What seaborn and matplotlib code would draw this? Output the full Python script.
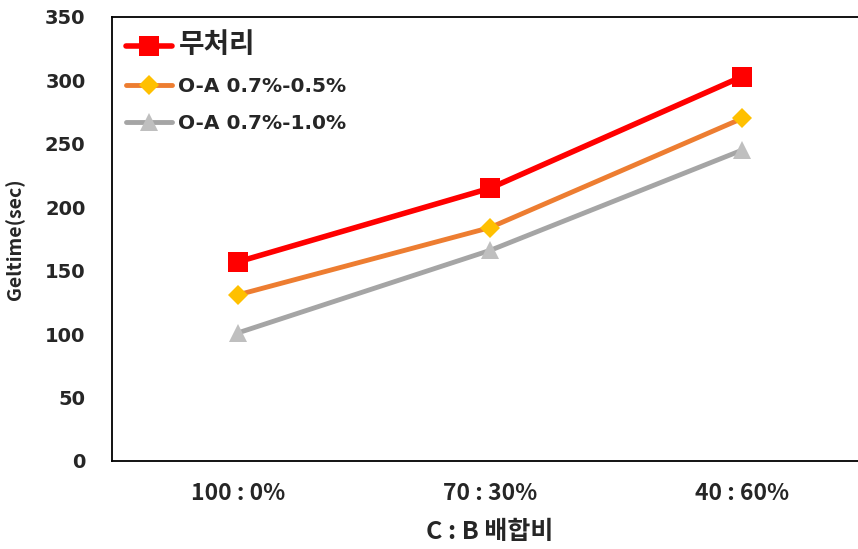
import pandas as pd
import matplotlib.pyplot as plt
import seaborn as sns

sns.set_style("white")
plt.rcParams['font.family'] = ['DejaVu Sans', 'Noto Sans CJK KR']

ratios = ['100 : 0%', '70 : 30%', '40 : 60%']
untreated = [157, 215, 303]
oa_05 = [131, 184, 270]
oa_10 = [101, 166, 245]

fig = plt.figure(figsize=(8.58, 5.49), dpi=100)
ax = fig.add_axes([112/858, 1 - 461/549, (868 - 112)/858, (461 - 17)/549])

df = pd.DataFrame({'ratio': ratios * 3,
                   'geltime': untreated + oa_05 + oa_10,
                   'series': ['무처리'] * 3 + ['O-A 0.7%-0.5%'] * 3 + ['O-A 0.7%-1.0%'] * 3})

sns.lineplot(data=df[df.series == '무처리'], x='ratio', y='geltime', color='#FF0000',
             linewidth=4, marker='s', markersize=14, markeredgewidth=0,
             label='무처리', ax=ax)
sns.lineplot(data=df[df.series == 'O-A 0.7%-0.5%'], x='ratio', y='geltime', color='#ED7D31',
             linewidth=3.5, marker='D', markersize=10, markerfacecolor='#FFC000',
             markeredgewidth=0, label='O-A 0.7%-0.5%', ax=ax)
sns.lineplot(data=df[df.series == 'O-A 0.7%-1.0%'], x='ratio', y='geltime', color='#A5A5A5',
             linewidth=3.5, marker='^', markersize=13, markerfacecolor='#BFBFBF',
             markeredgewidth=0, label='O-A 0.7%-1.0%', ax=ax)

ax.set_xlim(-0.5, 2.5)
ax.set_ylim(0, 350)
ax.set_yticks(range(0, 351, 50))
ax.spines['right'].set_visible(False)
for s in ax.spines.values():
    s.set_color('black')
    s.set_linewidth(1.3)
ax.tick_params(axis='both', length=0)
ax.tick_params(axis='y', pad=19, labelsize=14)
ax.tick_params(axis='x', pad=15, labelsize=16.5)
for t in ax.get_yticklabels():
    t.set_fontweight('bold')
for t in ax.get_xticklabels():
    t.set_fontweight('bold')
    t.set_family('Noto Sans CJK KR')

ax.set_xlabel('C : B 배합비', fontsize=18, fontweight='bold', labelpad=11, family='Noto Sans CJK KR')
ax.set_ylabel('Geltime(sec)', fontsize=14, fontweight='bold', labelpad=14, family='Noto Sans CJK KR')

leg = ax.legend(loc='upper left', frameon=False, handlelength=2.3, handletextpad=0.3,
                labelspacing=0.9, borderaxespad=0.3, prop={'weight': 'bold', 'size': 14.5})
leg.get_texts()[0].set_fontsize(20)
leg.get_texts()[0].set_family('Noto Sans CJK KR')

plt.savefig('out.png', dpi=100)
